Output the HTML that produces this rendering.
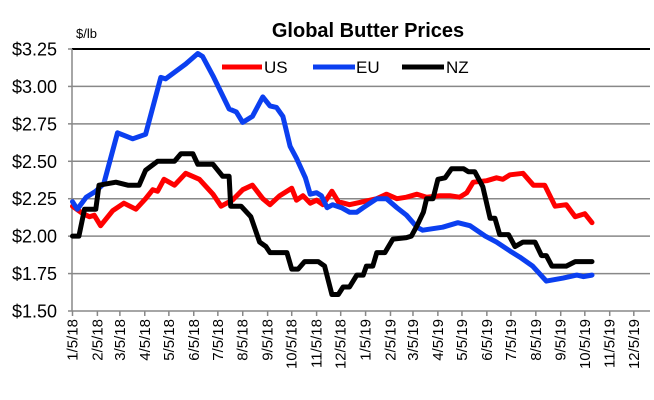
<!DOCTYPE html>
<html><head><meta charset="utf-8"><style>
body{margin:0;background:#fff;}
svg{display:block;font-family:"Liberation Sans",Arial,sans-serif;}
</style></head><body>
<svg id="chart" width="654" height="400">
<text x="368" y="37" text-anchor="middle" font-size="20" font-weight="bold">Global Butter Prices</text>
<text x="76" y="38" font-size="13">$/lb</text>
<g id="grid"></g><g id="axes"></g><g id="series"></g>
<g>
<line x1="222" y1="67" x2="262" y2="67" stroke="#f00" stroke-width="5"/>
<text x="264" y="73" font-size="17">US</text>
<line x1="313" y1="67" x2="355" y2="67" stroke="#0b3ff0" stroke-width="5"/>
<text x="356" y="73" font-size="17">EU</text>
<line x1="402" y1="67" x2="444" y2="67" stroke="#000" stroke-width="5"/>
<text x="446" y="73" font-size="17">NZ</text>
</g>
</svg>
<script>
const yTicks=[1.5,1.75,2.0,2.25,2.5,2.75,3.0,3.25];
const xTickLabels=["1/5/18","2/5/18","3/5/18","4/5/18","5/5/18","6/5/18","7/5/18","8/5/18","9/5/18","10/5/18","11/5/18","12/5/18","1/5/19","2/5/19","3/5/19","4/5/19","5/5/19","6/5/19","7/5/19","8/5/19","9/5/19","10/5/19","11/5/19","12/5/19"];
const usDays=[0,13,21,27,35,50,64,79,91,100,106,114,127,141,158,175,185,199,212,224,237,246,258,273,279,287,296,304,312,323,331,345,362,379,391,404,416,429,441,458,470,482,491,499,516,528,536,545,561,574,588,601,615,626,638,647];
const usValues=[2.20,2.15,2.13,2.14,2.07,2.17,2.22,2.18,2.25,2.31,2.30,2.38,2.34,2.42,2.38,2.28,2.20,2.24,2.31,2.34,2.25,2.21,2.27,2.32,2.24,2.27,2.22,2.24,2.21,2.30,2.23,2.21,2.23,2.25,2.28,2.25,2.26,2.28,2.26,2.27,2.27,2.26,2.29,2.36,2.37,2.39,2.38,2.41,2.42,2.34,2.34,2.20,2.21,2.13,2.15,2.09];
const euDays=[0,6,17,29,39,56,75,91,110,116,141,156,162,175,195,204,212,224,237,246,254,262,271,279,290,296,304,310,317,324,335,345,354,362,379,391,404,416,429,436,461,480,495,514,528,545,557,573,590,611,628,636,647];
const euValues=[2.23,2.18,2.26,2.30,2.35,2.69,2.65,2.68,3.06,3.05,3.15,3.22,3.20,3.07,2.85,2.83,2.76,2.80,2.93,2.87,2.86,2.80,2.60,2.52,2.39,2.28,2.29,2.27,2.19,2.21,2.19,2.16,2.16,2.19,2.25,2.25,2.19,2.14,2.06,2.04,2.06,2.09,2.07,2.00,1.96,1.90,1.86,1.80,1.70,1.72,1.74,1.73,1.74];
const nzDays=[0,8,15,29,33,54,69,83,91,106,127,135,150,156,175,187,195,197,210,222,233,241,246,267,273,281,289,306,314,323,331,337,345,354,362,366,374,379,389,399,416,422,429,437,441,449,455,464,472,487,493,501,511,520,526,532,543,551,561,576,584,590,597,615,626,647];
const nzValues=[2.00,2.00,2.18,2.18,2.34,2.36,2.34,2.34,2.44,2.50,2.50,2.55,2.55,2.48,2.48,2.40,2.40,2.20,2.20,2.13,1.96,1.93,1.89,1.89,1.78,1.78,1.83,1.83,1.80,1.61,1.61,1.66,1.66,1.74,1.74,1.80,1.80,1.89,1.89,1.98,1.99,2.00,2.07,2.16,2.25,2.25,2.38,2.39,2.45,2.45,2.43,2.43,2.33,2.12,2.12,2.01,2.01,1.93,1.96,1.96,1.87,1.87,1.80,1.80,1.83,1.83];

const NS="http://www.w3.org/2000/svg";
const L=72,R=650,T=49,B=311,yMin=1.5,yMax=3.25;
const x0=72.5,pxPerDay=0.803;
function xs(d){return x0+d*pxPerDay;}
function ys(v){return B-(v-yMin)/(yMax-yMin)*(B-T);}
function mk(tag,attrs,parent){const e=document.createElementNS(NS,tag);for(const k in attrs)e.setAttribute(k,attrs[k]);parent.appendChild(e);return e;}
const grid=document.getElementById('grid'),axes=document.getElementById('axes'),ser=document.getElementById('series');
yTicks.forEach((v,i)=>{
  const y=ys(v);
  const g=mk('line',{x1:L,x2:R,y1:y,y2:y,stroke:i===yTicks.length-1?'#000':'#888','stroke-width':i===yTicks.length-1?2:1.5},grid);
  
  
  const t=mk('text',{x:57,y:y+6.5,'text-anchor':'end','font-size':18},axes);
  t.textContent='$'+v.toFixed(2);
  
  
  const tk=mk('line',{x1:L-4,x2:L,y1:y,y2:y,stroke:'#888','stroke-width':1.5},axes);
  
  
});
const ax=mk('line',{x1:L,x2:L,y1:T,y2:B,stroke:'#888','stroke-width':1.5},axes);


const start=Date.UTC(2018,0,5);
xTickLabels.forEach(s=>{
  const p=s.split('/');
  const d=(Date.UTC(2000+ +p[2],+p[0]-1,+p[1])-start)/86400000;
  const x=xs(d);
  const tk=mk('line',{x1:x,x2:x,y1:B,y2:B+5,stroke:'#888','stroke-width':1.5},axes);
  
  
  const t=mk('text',{x:0,y:0,'text-anchor':'end','font-size':15,transform:`translate(${x+5},${B+8}) rotate(-90)`},axes);
  t.textContent=s;
  
  
});
function line(days,vals,color,name){
  const pts=days.map((d,i)=>xs(d).toFixed(1)+','+ys(vals[i]).toFixed(1)).join(' ');
  const p=mk('polyline',{points:pts,fill:'none',stroke:color,'stroke-width':5,'stroke-linejoin':'round','stroke-linecap':'round'},ser);
  
  
}
line(usDays,usValues,'#f00','us-price-line');
line(euDays,euValues,'#0b3ff0','eu-price-line');
line(nzDays,nzValues,'#000','nz-price-line');
</script>
</body></html>
